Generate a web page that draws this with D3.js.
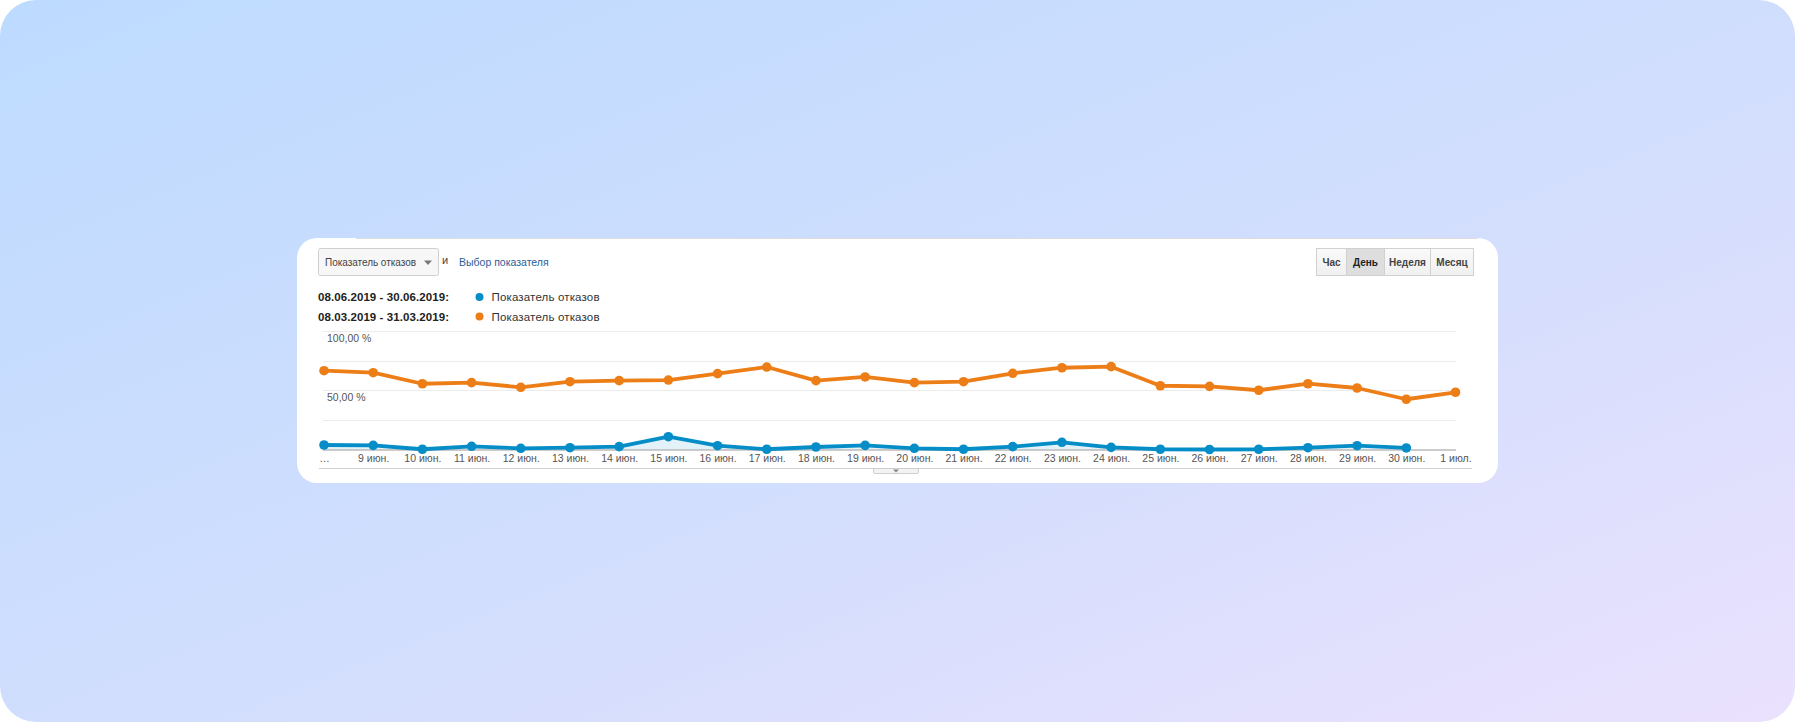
<!DOCTYPE html>
<html>
<head>
<meta charset="utf-8">
<script src="https://cdn.jsdelivr.net/npm/d3@7"></script>
<style>
  body { margin: 0; background: #fff; }
  svg { display: block; font-family: "Liberation Sans", Arial, sans-serif; }
</style>
</head>
<body>
<script>
var W = 1795, H = 722;

// x categories (tick labels), first one is the cut "…" day (8 июн.)
var days = ["…", "9 июн.", "10 июн.", "11 июн.", "12 июн.", "13 июн.", "14 июн.", "15 июн.",
  "16 июн.", "17 июн.", "18 июн.", "19 июн.", "20 июн.", "21 июн.", "22 июн.", "23 июн.",
  "24 июн.", "25 июн.", "26 июн.", "27 июн.", "28 июн.", "29 июн.", "30 июн.", "1 июл."];

// 08.06.2019 - 30.06.2019 (no value for the last day)
var juneRate = [3.8, 3.5, 0.2, 2.7, 1.0, 1.5, 2.4, 10.8, 3.2, 0.2, 2.1, 3.5, 1.0, 0.2, 2.4, 6.1,
  1.8, 0.2, 0.0, 0.2, 1.5, 3.2, 1.3];
// 08.03.2019 - 31.03.2019
var marchRate = [66.5, 64.8, 55.5, 56.4, 52.5, 57.2, 58.1, 58.6, 64.0, 69.6, 58.1, 61.2, 56.4, 57.2,
  64.3, 69.0, 69.9, 53.8, 53.3, 50.0, 55.5, 51.9, 42.4, 48.3];

var yTicks = [0, 25, 50, 75, 100];
var yLabels = [{v: 100, t: "100,00 %"}, {v: 50, t: "50,00 %"}];

var legend = [
  {period: "08.06.2019 - 30.06.2019:", name: "Показатель отказов", color: "#058dc7"},
  {period: "08.03.2019 - 31.03.2019:", name: "Показатель отказов", color: "#ed7e17"}
];
var buttons = ["Час", "День", "Неделя", "Месяц"];
var btnEdges = [1316, 1346, 1384, 1430, 1473];

var svg = d3.select("body").append("svg")
  .attr("width", W)
  .attr("height", H);

var defs = svg.append("defs");
var grad = defs.append("linearGradient")
  .attr("id", "bg")
  .attr("x1", "0%").attr("y1", "0%")
  .attr("x2", "100%").attr("y2", "100%");
grad.append("stop").attr("offset", "0%").attr("stop-color", "#bddbff");
grad.append("stop").attr("offset", "55%").attr("stop-color", "#d2defd");
grad.append("stop").attr("offset", "100%").attr("stop-color", "#eae1fd");

var btnGrad = defs.append("linearGradient")
  .attr("id", "btn").attr("x1", 0).attr("y1", 0).attr("x2", 0).attr("y2", 1);
btnGrad.append("stop").attr("offset", "0%").attr("stop-color", "#fafafa");
btnGrad.append("stop").attr("offset", "100%").attr("stop-color", "#f0f0f0");

svg.append("rect")
  .attr("width", W).attr("height", H)
  .attr("rx", 36)
  .attr("fill", "url(#bg)");

// card
svg.append("rect")
  .attr("x", 297).attr("y", 238)
  .attr("width", 1201).attr("height", 245)
  .attr("rx", 20)
  .attr("fill", "#fff");
svg.append("line")
  .attr("x1", 356).attr("x2", 1478)
  .attr("y1", 238.5).attr("y2", 238.5)
  .attr("stroke", "#dcdcdc");

// dropdown
svg.append("rect")
  .attr("x", 318.5).attr("y", 248.5)
  .attr("width", 120).attr("height", 27)
  .attr("rx", 2)
  .attr("fill", "#f7f7f7")
  .attr("stroke", "#cfcfcf");
svg.append("text")
  .attr("x", 325).attr("y", 265.5)
  .attr("font-size", 10).attr("fill", "#444")
  .attr("textLength", 91)
  .text("Показатель отказов");
svg.append("path")
  .attr("d", "M424,260.5 L432,260.5 L428,265 Z")
  .attr("fill", "#777");
svg.append("text")
  .attr("x", 442).attr("y", 264)
  .attr("font-size", 11).attr("fill", "#444")
  .text("и");
svg.append("text")
  .attr("x", 459).attr("y", 266)
  .attr("font-size", 10.5).attr("fill", "#2a5d98")
  .text("Выбор показателя");

// legend
var lg = svg.selectAll(".lg")
  .data(legend)
  .enter()
  .append("g")
  .attr("transform", function(d, i) { return "translate(0," + (297 + i * 19.5) + ")"; });
lg.append("text")
  .attr("x", 318).attr("y", 4)
  .attr("font-size", 11.5).attr("font-weight", "bold").attr("fill", "#222")
  .attr("textLength", 131)
  .text(function(d) { return d.period; });
lg.append("circle")
  .attr("cx", 479.5).attr("cy", 0)
  .attr("r", 4)
  .attr("fill", function(d) { return d.color; });
lg.append("text")
  .attr("x", 491.5).attr("y", 4)
  .attr("font-size", 11.5).attr("fill", "#333")
  .attr("textLength", 108)
  .text(function(d) { return d.name; });

// buttons
var bg = svg.selectAll(".btn")
  .data(buttons)
  .enter()
  .append("g");
bg.append("rect")
  .attr("x", function(d, i) { return btnEdges[i] + 0.5; })
  .attr("y", 248.5)
  .attr("width", function(d, i) { return btnEdges[i + 1] - btnEdges[i]; })
  .attr("height", 27)
  .attr("fill", function(d) { return d == "День" ? "#dedede" : "url(#btn)"; })
  .attr("stroke", "#d0d0d0");
bg.append("text")
  .attr("x", function(d, i) { return (btnEdges[i] + btnEdges[i + 1]) / 2 + 0.5; })
  .attr("y", 265.5)
  .attr("text-anchor", "middle")
  .attr("font-size", 10)
  .attr("font-weight", "bold")
  .attr("fill", function(d) { return d == "День" ? "#222" : "#444"; })
  .text(function(d) { return d; });

// chart
var x = d3.scalePoint().domain(d3.range(days.length)).range([324, 1455.5]);
var y = d3.scaleLinear().domain([0, 100]).range([449.5, 331]);

svg.append("g")
  .selectAll("line")
  .data(yTicks.slice(1))
  .enter()
  .append("line")
  .attr("x1", 323).attr("x2", 1456)
  .attr("y1", function(d) { return Math.round(y(d)) + 0.5; })
  .attr("y2", function(d) { return Math.round(y(d)) + 0.5; })
  .attr("stroke", "#ececec");

svg.append("g")
  .selectAll("text")
  .data(yLabels)
  .enter()
  .append("text")
  .attr("x", 327)
  .attr("y", function(d) { return y(d.v) + 11; })
  .attr("font-size", 10.5)
  .attr("fill", "#555")
  .text(function(d) { return d.t; });

var area = d3.area()
  .x(function(d, i) { return x(i); })
  .y0(y(0))
  .y1(function(d) { return y(d); });
var line = d3.line()
  .x(function(d, i) { return x(i); })
  .y(function(d) { return y(d); });

svg.append("path")
  .datum(juneRate)
  .attr("d", area)
  .attr("fill", "#e3f1f9");

svg.append("line")
  .attr("x1", 323).attr("x2", 1456)
  .attr("y1", y(0) + 0.5).attr("y2", y(0) + 0.5)
  .attr("stroke", "#999");

[{data: marchRate, color: legend[1].color}, {data: juneRate, color: legend[0].color}].forEach(function(s) {
  svg.append("path")
    .datum(s.data)
    .attr("d", line)
    .attr("fill", "none")
    .attr("stroke", s.color)
    .attr("stroke-width", 3.8)
    .attr("stroke-linejoin", "round");
  svg.append("g")
    .selectAll("circle")
    .data(s.data)
    .enter()
    .append("circle")
    .attr("cx", function(d, i) { return x(i); })
    .attr("cy", function(d) { return y(d); })
    .attr("r", 4.8)
    .attr("fill", s.color);
});

// x axis labels
var xAxis = d3.axisBottom(x)
  .tickSize(0)
  .tickPadding(0)
  .tickFormat(function(i) { return days[i]; });
var gx = svg.append("g")
  .attr("transform", "translate(0," + 455 + ")")
  .call(xAxis);
gx.select(".domain").remove();
gx.selectAll("text")
  .attr("font-size", 10.5)
  .attr("font-family", "Liberation Sans, Arial, sans-serif")
  .attr("fill", "#555");

// bottom rule and tab
svg.append("line")
  .attr("x1", 319).attr("x2", 1472)
  .attr("y1", 468.5).attr("y2", 468.5)
  .attr("stroke", "#cfcfcf");
svg.append("rect")
  .attr("x", 873.5).attr("y", 468.5)
  .attr("width", 45).attr("height", 5)
  .attr("rx", 1.5)
  .attr("fill", "#f3f3f3")
  .attr("stroke", "#cfcfcf");
svg.append("path")
  .attr("d", "M893,469.5 L899,469.5 L896,472.5 Z")
  .attr("fill", "#888");
</script>
</body>
</html>
